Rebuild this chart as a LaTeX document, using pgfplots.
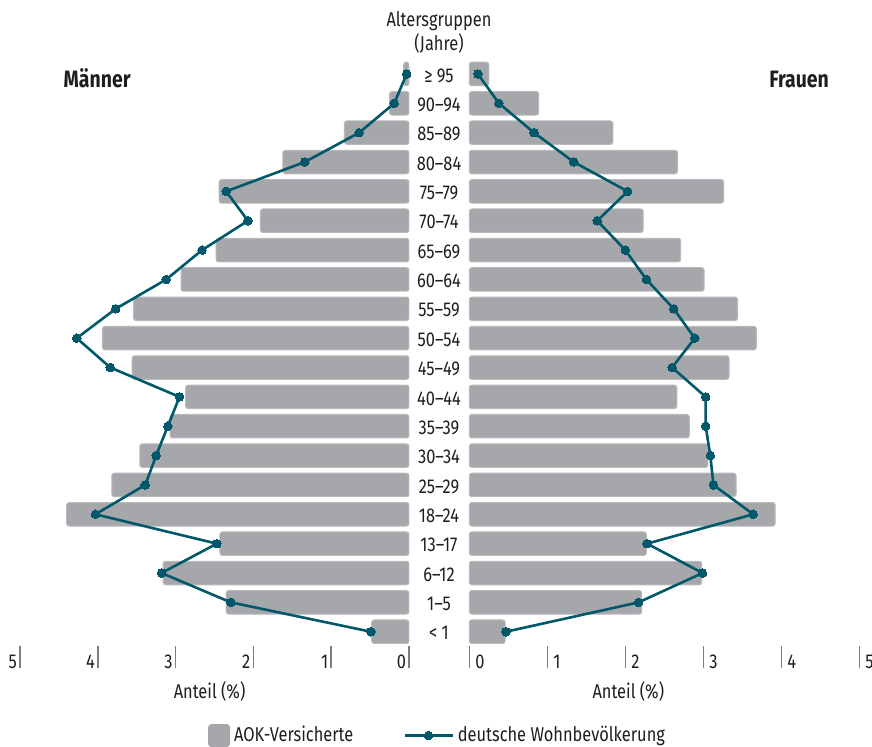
\documentclass[border=0pt]{standalone}
\usepackage{fontspec}
\setmainfont{Fira Sans}[FakeStretch=0.82]
\usepackage{pgfplots}
\pgfplotsset{compat=1.18}
\usepackage{pgfplotstable}

\newlength{\px}\setlength{\px}{0.5pt}
\definecolor{barcol}{RGB}{166,167,171}
\definecolor{baredge}{RGB}{184,185,188}
\definecolor{linecol}{RGB}{0,88,106}
\definecolor{txt}{RGB}{30,30,30}
\definecolor{tickcol}{RGB}{125,125,125}

% idx: 0 = <1 ... 19 = >=95
\pgfplotstableread{
idx aokM popM aokF popF
0  0.48 0.49 0.46 0.47
1  2.35 2.29 2.21 2.17
2  3.16 3.18 2.98 2.99
3  2.43 2.47 2.27 2.28
4  4.40 4.03 3.92 3.64
5  3.82 3.39 3.42 3.13
6  3.46 3.25 3.06 3.09
7  3.07 3.10 2.82 3.03
8  2.87 2.95 2.66 3.03
9  3.56 3.84 3.33 2.60
10 3.94 4.27 3.68 2.89
11 3.54 3.77 3.44 2.62
12 2.93 3.12 3.01 2.27
13 2.48 2.66 2.71 2.00
14 1.91 2.07 2.23 1.64
15 2.44 2.35 3.26 2.03
16 1.62 1.34 2.67 1.34
17 0.83 0.64 1.84 0.83
18 0.25 0.19 0.89 0.38
19 0.07 0.03 0.25 0.11
}\data

\pgfplotsset{
  pyr/.style={
    scale only axis, height=587.1\px,
    xmin=0, xmax=5, ymin=-0.5, ymax=19.5,
    axis line style={draw=none},
    clip=false,
    xtick={0,1,2,3,4,5},
    xtick pos=left,
    tick align=outside,
    major tick length=21.6\px,
    xtick style={draw=tickcol, line width=1.5\px},
    tick label style={font=\fontsize{10}{12}\selectfont, text=txt},
    /pgf/number format/assume math mode=true,
    label style={font=\fontsize{10}{12}\selectfont, text=txt},
  },
  barsty/.style={xbar, bar shift=0pt, bar width=23.5\px, fill=barcol,
    draw=baredge, line width=1\px, rounded corners=2.5\px},
  linesty/.style={color=linecol, line width=2.6\px, mark=*, mark size=4.3\px,
    mark options={solid, fill=linecol, draw=linecol, line width=0pt}},
}

\begin{document}
\begin{tikzpicture}
\begin{axis}[pyr, at={(0,0)}, anchor=south west, width=389\px,
  x dir=reverse, ytick=\empty,
  xticklabel style={anchor=base east, xshift=4\px, yshift=-1\px},
  xlabel={Anteil (\%)},
  xlabel style={at={(axis description cs:0.4874,-0.0896)}, anchor=base},
]
\addplot[barsty] table[x=aokM, y=idx]{\data};
\addplot[linesty] table[x=popM, y=idx]{\data};
\end{axis}

\begin{axis}[pyr, at={(449.3\px,0)}, anchor=south west, width=390\px,
  ytick={0,...,19},
  yticklabels={< 1, 1–5, 6–12, 13–17, 18–24, 25–29, 30–34, 35–39, 40–44, 45–49, 50–54, 55–59, 60–64, 65–69, 70–74, 75–79, 80–84, 85–89, 90–94, ≥ 95},
  ytick pos=left,
  ytick style={draw=none},
  yticklabel style={anchor=center, xshift=-8.7\px, yshift=-1.5\px},
  xticklabel style={anchor=base west, xshift=-1\px, yshift=-1\px},
  xlabel={Anteil (\%)},
  xlabel style={at={(axis description cs:0.4077,-0.0896)}, anchor=base},
  legend columns=2,
  legend style={at={(axis description cs:-0.079,-0.1518)}, anchor=center,
    draw=none, fill=none, font=\fontsize{10}{12}\selectfont, text=txt,
    /tikz/every even column/.append style={column sep=46\px}},
]
\addplot[barsty, legend image code/.code={
  \fill[barcol, rounded corners=3\px] (0,-11\px) rectangle (21\px,11\px);}]
  table[x=aokF, y=idx]{\data};
\addlegendentry{AOK-Versicherte}
\addplot[linesty, legend image code/.code={
  \draw[mark repeat=2, mark phase=2] plot coordinates {(0,0) (24\px,0) (48\px,0)};}]
  table[x=popF, y=idx]{\data};
\addlegendentry{deutsche Wohnbevölkerung}
\end{axis}

\node[anchor=base, font=\fontsize{10}{12}\selectfont, text=txt] at (419\px,619.7\px) {Altersgruppen};
\node[anchor=base, font=\fontsize{10}{12}\selectfont, text=txt] at (419\px,595.4\px) {(Jahre)};
\node[anchor=base west, inner sep=0pt, font=\bfseries\fontsize{11.85}{14}\selectfont, text=txt] at (43.3\px,559.1\px) {Männer};
\node[anchor=base east, inner sep=0pt, font=\bfseries\fontsize{11.85}{14}\selectfont, text=txt] at (809.3\px,559.1\px) {Frauen};

\pgfresetboundingbox
\useasboundingbox (-20\px,-100.6\px) rectangle (852\px,646.4\px);
\end{tikzpicture}
\end{document}
